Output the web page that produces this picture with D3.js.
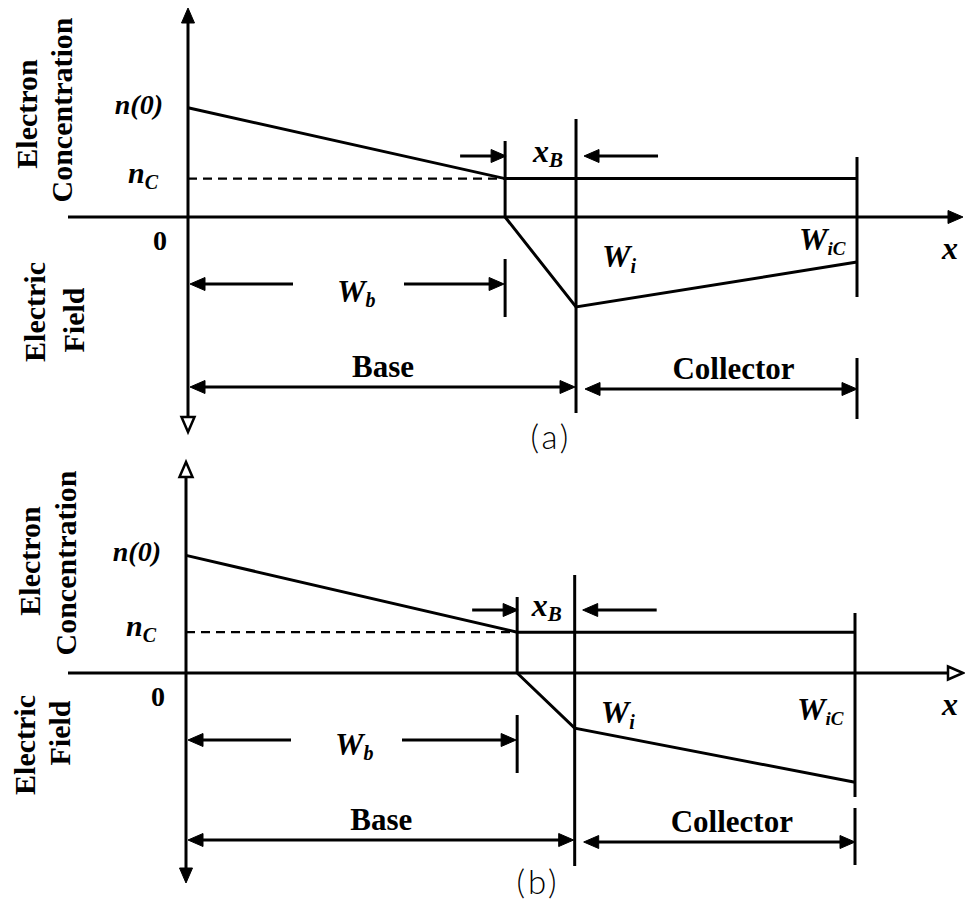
<!DOCTYPE html>
<html>
<head>
<meta charset="utf-8">
<script src="https://cdn.jsdelivr.net/npm/d3@7"></script>
<style>
  body { margin: 0; background: #fff; }
  svg { display: block; }
</style>
</head>
<body>
<svg id="fig" width="965" height="905"></svg>
<script>
// ---- Data: electron concentration and electric field in a BJT (base + collector) ----
const panelNames    = ["(a)", "(b)"];
// positions along x, normalised to the collector edge W_iC = 1
const baseEdge      = [0.474, 0.495];   // W_b  (end of quasi-neutral base)
const junctionEdge  = [0.580, 0.581];   // W_i  (metallurgical base/collector edge)
const collectorEdge = [1.0, 1.0];       // W_iC
// electron concentration (normalised)
const nZero         = [0.91, 0.98];     // n(0)
const nColl         = [0.32, 0.34];     // n_C
// electric field magnitude (normalised, drawn downward from the x axis)
const fieldAtWi     = [0.75, 0.46];
const fieldAtWiC    = [0.375, 0.91];
// labels
const regionLabels  = ["Base", "Collector"];
const upperAxisName = ["Electron", "Concentration"];
const lowerAxisName = ["Electric", "Field"];

// ---- Layout (pixels) ----
const layout = [
  { axisY: 217, x0: 188, x1: 857, yTop: -209, yBot: 215, hollowTop: false, hollowBot: true, hollowX: false,
    wicTop: -60, wicBot: 80, collTop: 141, collBot: 202, wicLab: 33, xbY: -61, xbLab: -55,
    wbY: 67, wbLab: 85, baseY: 170, baseLab: 160, nameY: 232, nameX: 551,
    elecX: [37, 72], elecCY: [114, 110], fieldX: [45, 84], fieldCY: [312, 320] },
  { axisY: 673, x0: 186, x1: 855, yTop: -211, yBot: 210, hollowTop: true, hollowBot: false, hollowX: true,
    wicTop: -60, wicBot: 124, collTop: 135, collBot: 192, wicLab: 47, xbY: -63, xbLab: -57,
    wbY: 67, wbLab: 82, baseY: 167, baseLab: 157, nameY: 221, nameX: 538,
    elecX: [40, 76], elecCY: [561, 563], fieldX: [35, 70], fieldCY: [745, 733] }
];

const serif = "'Liberation Serif', 'Times New Roman', serif";
const svg = d3.select("#fig");

function seg(g, x1, y1, x2, y2, w = 3) {
  return g.append("line")
    .attr("x1", x1).attr("y1", y1).attr("x2", x2).attr("y2", y2)
    .attr("stroke", "#000").attr("stroke-width", w).attr("stroke-linecap", "butt");
}

function head(g, tx, ty, dir, hollow = false) {
  const L = 15, H = 6.5;
  const pts = {
    right: [[tx, ty], [tx - L, ty - H], [tx - L, ty + H]],
    left:  [[tx, ty], [tx + L, ty - H], [tx + L, ty + H]],
    up:    [[tx, ty], [tx - H, ty + L], [tx + H, ty + L]],
    down:  [[tx, ty], [tx - H, ty - L], [tx + H, ty - L]]
  }[dir];
  g.append("path")
    .attr("d", d3.line()(pts) + "Z")
    .attr("fill", hollow ? "#fff" : "#000")
    .attr("stroke", "#000")
    .attr("stroke-width", hollow ? 2.5 : 1)
    .attr("stroke-linejoin", "miter");
}

function label(g, x, y, parts, opts = {}) {
  const t = g.append("text")
    .attr("x", x).attr("y", y)
    .attr("font-family", serif)
    .attr("font-weight", "bold")
    .attr("font-style", opts.italic ? "italic" : "normal")
    .attr("font-size", opts.size || 30)
    .attr("text-anchor", opts.anchor || "start")
    .attr("fill", "#000");
  parts.forEach(p => {
    const s = t.append("tspan").text(p.t);
    if (p.sub) s.attr("font-size", p.size || 20).attr("dy", p.dy || 6);
  });
  return t;
}

panelNames.forEach((name, i) => {
  const L = layout[i];
  const ay = L.axisY;
  const g = svg.append("g");

  const x  = d3.scaleLinear().domain([0, 1]).range([L.x0, L.x1]);
  const yN = d3.scaleLinear().domain([0, 1]).range([ay, ay - 120]);
  const yE = d3.scaleLinear().domain([0, 1]).range([ay, ay + 120]);

  const xWb = x(baseEdge[i]), xWi = x(junctionEdge[i]), xWc = x(collectorEdge[i]);

  // axes
  seg(g, 68, ay, 950, ay);
  head(g, 963, ay, "right", L.hollowX);
  seg(g, x(0), ay + L.yTop + 12, x(0), ay + L.yBot - 12);
  head(g, x(0), ay + L.yTop, "up", L.hollowTop);
  head(g, x(0), ay + L.yBot, "down", L.hollowBot);

  // electron concentration profile
  const conc = [[0, nZero[i]], [baseEdge[i], nColl[i]], [collectorEdge[i], nColl[i]]];
  g.append("path")
    .attr("d", d3.line().x(d => x(d[0])).y(d => yN(d[1]))(conc))
    .attr("fill", "none").attr("stroke", "#000").attr("stroke-width", 3);
  g.append("line")
    .attr("x1", x(0)).attr("x2", xWb)
    .attr("y1", yN(nColl[i])).attr("y2", yN(nColl[i]))
    .attr("stroke", "#000").attr("stroke-width", 2.2).attr("stroke-dasharray", "9,6");

  // electric field profile
  const field = [[baseEdge[i], 0], [junctionEdge[i], fieldAtWi[i]], [collectorEdge[i], fieldAtWiC[i]]];
  g.append("path")
    .attr("d", d3.line().x(d => x(d[0])).y(d => yE(d[1]))(field))
    .attr("fill", "none").attr("stroke", "#000").attr("stroke-width", 3);

  // boundary lines
  seg(g, xWb, ay - 76, xWb, ay);
  seg(g, xWi, ay - 98, xWi, ay + L.baseY + 26);
  seg(g, xWc, ay + L.wicTop, xWc, ay + L.wicBot);
  seg(g, xWb, ay + 42, xWb, ay + 100);              // W_b marker
  seg(g, xWc, ay + L.collTop, xWc, ay + L.collBot); // collector end marker

  // x_B dimension arrows
  seg(g, xWb - 45, ay + L.xbY, xWb - 10, ay + L.xbY);
  head(g, xWb + 1, ay + L.xbY, "right");
  seg(g, xWi + 20, ay + L.xbY, xWi + 82, ay + L.xbY);
  head(g, xWi + 8, ay + L.xbY, "left");
  label(g, xWi - 43, ay + L.xbLab, [{ t: "x" }, { t: "B", sub: true, size: 21, dy: 5 }], { italic: true, size: 32 });

  // W_b dimension arrows
  seg(g, x(0) + 12, ay + L.wbY, x(0) + 105, ay + L.wbY);
  head(g, x(0) + 2, ay + L.wbY, "left");
  seg(g, x(0) + 216, ay + L.wbY, xWb - 12, ay + L.wbY);
  head(g, xWb - 1, ay + L.wbY, "right");
  label(g, x(0) + 149, ay + L.wbLab, [{ t: "W" }, { t: "b", sub: true, size: 20, dy: 5 }], { italic: true, size: 32 });

  // Base / Collector region arrows
  seg(g, x(0) + 12, ay + L.baseY, xWi - 12, ay + L.baseY);
  head(g, x(0) + 2, ay + L.baseY, "left");
  head(g, xWi - 1, ay + L.baseY, "right");
  seg(g, xWi + 20, ay + L.baseY + 2, xWc - 12, ay + L.baseY + 2);
  head(g, xWi + 9, ay + L.baseY + 2, "left");
  head(g, xWc, ay + L.baseY + 2, "right");
  label(g, (x(0) + xWi) / 2 + 1, ay + L.baseLab, [{ t: regionLabels[0] }], { anchor: "middle", size: 31 });
  label(g, (xWi + xWc) / 2 + 17, ay + L.baseLab + 2, [{ t: regionLabels[1] }], { anchor: "middle", size: 31 });

  // point labels
  label(g, x(0) - 25, yN(nZero[i]) + 6, [{ t: "n(0)" }], { italic: true, anchor: "end", size: 28 });
  label(g, x(0) - 60, yN(nColl[i]) + 4, [{ t: "n" }, { t: "C", sub: true, size: 20, dy: 6 }], { italic: true, size: 30 });
  label(g, x(0) - 28, ay + 33, [{ t: "0" }], { anchor: "middle", size: 28 });
  label(g, xWi + 26, ay + 50, [{ t: "W" }, { t: "i", sub: true, size: 20, dy: 6 }], { italic: true, size: 32 });
  label(g, xWc - 58, ay + L.wicLab, [{ t: "W" }, { t: "iC", sub: true, size: 19, dy: 5 }], { italic: true, size: 32 });
  label(g, 942, ay + 42, [{ t: "x" }], { italic: true, size: 32 });

  // rotated axis titles
  [upperAxisName, lowerAxisName].forEach((words, k) => {
    const xs = k === 0 ? L.elecX : L.fieldX;
    const cs = k === 0 ? L.elecCY : L.fieldCY;
    words.forEach((w, j) => {
      g.append("text")
        .attr("transform", `translate(${xs[j]},${cs[j]}) rotate(-90)`)
        .attr("text-anchor", "middle")
        .attr("font-family", serif).attr("font-weight", "bold")
        .attr("font-size", 30)
        .text(w);
    });
  });

  // panel tag
  g.append("text")
    .attr("x", L.nameX).attr("y", ay + L.nameY)
    .attr("text-anchor", "middle")
    .attr("font-family", "Lato, 'Open Sans', sans-serif")
    .attr("font-weight", 300)
    .attr("font-size", 33)
    .attr("letter-spacing", 3)
    .text(name);
});
</script>
</body>
</html>
